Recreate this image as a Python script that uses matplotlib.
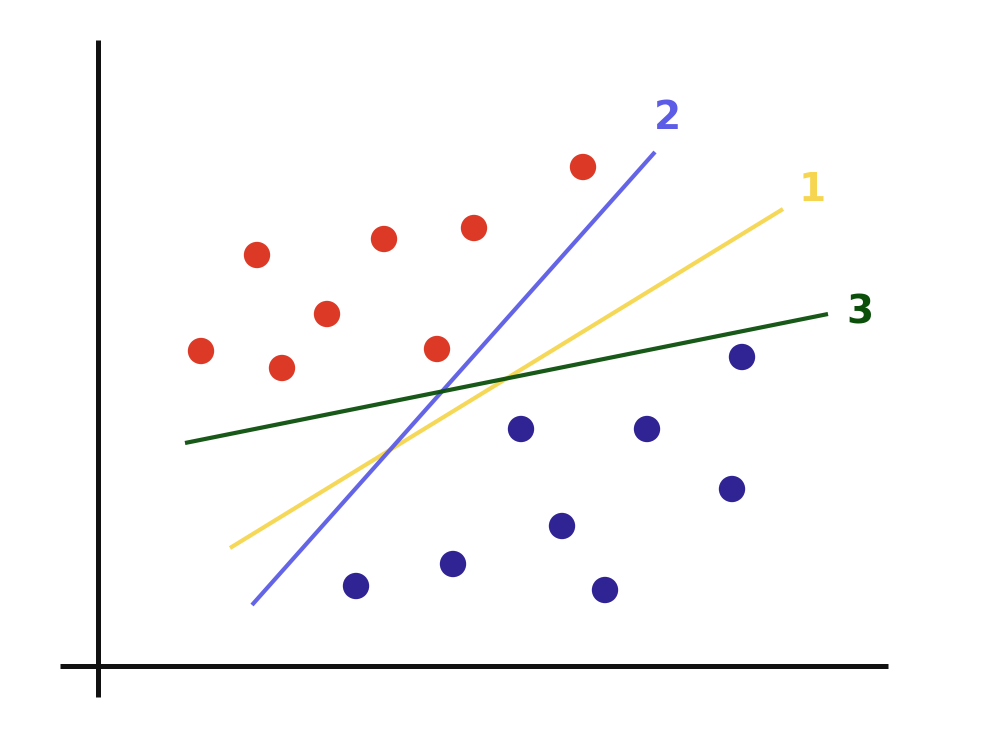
import matplotlib
matplotlib.use("Agg")
import matplotlib.pyplot as plt

# Data (units: arbitrary, origin at axes crossing)
red_x = [10.3, 15.9, 18.4, 22.9, 28.6, 33.9, 37.6, 48.5]
red_y = [31.5, 41.1, 29.8, 35.2, 42.7, 31.7, 43.8, 49.9]
blue_x = [64.4, 42.3, 54.9, 63.4, 46.4, 35.5, 25.8, 50.7]
blue_y = [30.9, 23.7, 23.7, 17.7, 14.0, 10.2, 8.0, 7.6]

line_labels = ["1", "2", "3"]
line_x = [[13.2, 68.5], [15.4, 55.7], [8.7, 73.0]]
line_y = [[11.8, 45.7], [6.1, 51.4], [22.3, 35.2]]
label_x = [71.4, 56.9, 76.2]
label_y = [47.6, 54.8, 35.3]
line_colors = ["#f6d650", "#5c5ce6", "#0b4f0b"]

fig = plt.figure(figsize=(9.92, 7.44), dpi=100)
ax = fig.add_axes([0, 0, 1, 1])
ax.set_xlim(-9.8, 89.4)
ax.set_ylim(-7.8, 66.6)
ax.axis("off")

# axes drawn as thick crayon-like strokes
ax.plot([0, 0], [-3.1, 62.6], color="#111111", lw=3.6, solid_capstyle="butt", zorder=1)
ax.plot([-3.8, 79.0], [0, 0], color="#111111", lw=3.6, solid_capstyle="butt", zorder=1)

for lx, ly, c, lab, tx, ty in zip(line_x, line_y, line_colors, line_labels, label_x, label_y):
    ax.plot(lx, ly, color=c, lw=3.0, alpha=0.95, solid_capstyle="butt", zorder=2)
    ax.text(tx, ty, lab, color=c, fontsize=28, fontweight="bold",
            family="DejaVu Sans", ha="center", va="center")

ax.scatter(red_x, red_y, s=360, color="#dc3a26", edgecolors="none", zorder=3)
ax.scatter(blue_x, blue_y, s=360, color="#302393", edgecolors="none", zorder=3)

fig.savefig("out.png", dpi=100)
